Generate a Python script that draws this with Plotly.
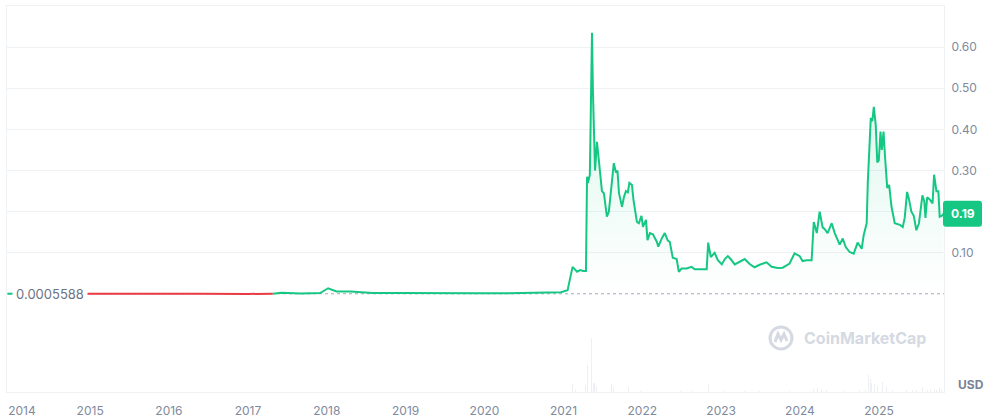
import plotly.graph_objects as go

# ---------------- data ----------------
price_dates = [
    "2013-12-15", "2014-01-20", "2014-02-20", "2014-04-20", "2014-06-01", "2014-09-01",
    "2015-01-01", "2015-06-01", "2016-01-01", "2016-06-01", "2017-01-01", "2017-04-01",
    "2017-04-25", "2017-05-20", "2017-06-05", "2017-09-01", "2017-12-01", "2018-01-07",
    "2018-02-15", "2018-04-20", "2018-08-01", "2018-12-01", "2019-04-01", "2019-07-01",
    "2019-12-01", "2020-03-15", "2020-07-01", "2020-12-20", "2021-01-20", "2021-01-29",
    "2021-02-12", "2021-03-05", "2021-03-19", "2021-04-02", "2021-04-15", "2021-04-20",
    "2021-04-24", "2021-05-03", "2021-05-13", "2021-05-17", "2021-05-27", "2021-06-05",
    "2021-06-14", "2021-06-28", "2021-07-07", "2021-07-21", "2021-07-30", "2021-08-13",
    "2021-08-22", "2021-09-01", "2021-09-08", "2021-09-15", "2021-09-29", "2021-10-08",
    "2021-10-17", "2021-10-26", "2021-11-02", "2021-11-14", "2021-11-21", "2021-12-07",
    "2021-12-16", "2021-12-28", "2022-01-04", "2022-01-18", "2022-01-25", "2022-02-05",
    "2022-02-19", "2022-03-09", "2022-03-16", "2022-04-01", "2022-04-15", "2022-04-29",
    "2022-05-08", "2022-05-22", "2022-06-09", "2022-06-19", "2022-07-02", "2022-07-25",
    "2022-08-17", "2022-09-01", "2022-10-08", "2022-10-26", "2022-11-02", "2022-11-14",
    "2022-12-02", "2022-12-16", "2023-01-04", "2023-01-18", "2023-02-01", "2023-02-14",
    "2023-03-05", "2023-03-28", "2023-04-20", "2023-05-13", "2023-06-05", "2023-06-28",
    "2023-07-30", "2023-08-23", "2023-09-20", "2023-10-13", "2023-11-14", "2023-12-07",
    "2023-12-31", "2024-01-13", "2024-02-01", "2024-02-24", "2024-03-05", "2024-03-19",
    "2024-04-01", "2024-04-15", "2024-04-24", "2024-05-08", "2024-05-27", "2024-06-10",
    "2024-07-03", "2024-07-17", "2024-07-31", "2024-08-18", "2024-09-06", "2024-09-24",
    "2024-10-13", "2024-10-22", "2024-11-05", "2024-11-10", "2024-11-24", "2024-12-01",
    "2024-12-08", "2024-12-17", "2024-12-24", "2024-12-31", "2025-01-08", "2025-01-14",
    "2025-01-22", "2025-01-29", "2025-02-08", "2025-02-17", "2025-02-28", "2025-03-15",
    "2025-04-08", "2025-04-21", "2025-04-30", "2025-05-11", "2025-05-20", "2025-05-31",
    "2025-06-11", "2025-06-23", "2025-07-05", "2025-07-21", "2025-07-30", "2025-08-04",
    "2025-08-12", "2025-08-24", "2025-09-06", "2025-09-13", "2025-09-24", "2025-10-03",
    "2025-10-09", "2025-10-18", "2025-10-27",
]
price_values = [
    0.00056, 0.0015, 0.0014, 0.00055, 0.00045, 0.00022,
    0.00018, 0.00013, 0.00015, 0.00030, 0.00022, 0.00045,
    0.00050, 0.0012, 0.003, 0.0012, 0.0022, 0.014,
    0.006, 0.006, 0.0026, 0.0025, 0.0027, 0.0035,
    0.0020, 0.0016, 0.0032, 0.0045, 0.009, 0.03,
    0.066, 0.054, 0.058, 0.056, 0.056, 0.285,
    0.27, 0.29, 0.635, 0.50, 0.30, 0.37,
    0.32, 0.25, 0.245, 0.188, 0.20, 0.278,
    0.318, 0.295, 0.30, 0.245, 0.212, 0.236,
    0.25, 0.247, 0.27, 0.265, 0.229, 0.175,
    0.172, 0.19, 0.163, 0.18, 0.131, 0.148,
    0.145, 0.127, 0.115, 0.135, 0.148, 0.13,
    0.127, 0.088, 0.085, 0.054, 0.062, 0.062,
    0.066, 0.060, 0.059, 0.060, 0.125, 0.09,
    0.10, 0.083, 0.072, 0.085, 0.092, 0.085,
    0.072, 0.078, 0.085, 0.073, 0.065, 0.071,
    0.077, 0.066, 0.063, 0.064, 0.074, 0.099,
    0.092, 0.08, 0.082, 0.082, 0.175, 0.148,
    0.20, 0.162, 0.158, 0.148, 0.172, 0.148,
    0.12, 0.135, 0.114, 0.102, 0.098, 0.125,
    0.11, 0.143, 0.172, 0.27, 0.428, 0.42,
    0.455, 0.41, 0.32, 0.325, 0.395, 0.35,
    0.395, 0.333, 0.258, 0.265, 0.212, 0.172,
    0.168, 0.163, 0.185, 0.248, 0.23, 0.20,
    0.19, 0.155, 0.172, 0.24, 0.225, 0.185,
    0.235, 0.23, 0.22, 0.29, 0.25, 0.25,
    0.188, 0.19, 0.195,
]
start_price = 0.0005588
last_price_label = "0.19"

vol_dates = [
    "2021-01-08", "2021-02-05", "2021-02-13", "2021-02-24", "2021-04-11", "2021-04-21",
    "2021-04-29", "2021-05-12", "2021-05-18", "2021-05-25", "2021-06-04", "2021-06-19",
    "2021-08-13", "2021-08-20", "2021-09-01", "2021-10-27", "2021-11-05", "2021-12-22",
    "2022-02-15", "2022-04-07", "2022-06-25", "2022-08-18", "2022-11-03", "2022-11-24",
    "2023-01-18", "2023-04-21", "2023-06-29", "2023-11-15", "2024-03-02", "2024-03-24",
    "2024-04-11", "2024-05-04", "2024-07-27", "2024-10-04", "2024-11-01", "2024-11-13",
    "2024-11-21", "2024-11-28", "2024-12-13", "2024-12-27", "2025-01-19", "2025-02-05",
    "2025-03-05", "2025-05-09", "2025-06-06", "2025-06-25", "2025-07-21", "2025-08-15",
    "2025-08-29", "2025-09-16", "2025-09-26", "2025-10-10", "2025-10-19",
]
vol_values = [
    3, 19, 10, 3, 9, 34,
    10, 69, 11, 12, 8, 3,
    10, 6, 2.5, 6.5, 2, 1.5,
    1.5, 2, 1.2, 1.5, 10, 2,
    1, 1.2, 0.8, 1, 4, 4.5,
    3, 3, 1.5, 2, 3, 22,
    17, 12, 10, 8, 13, 6,
    3, 2.5, 2, 2, 6, 3,
    2.5, 4, 3, 5, 3.5,
]

year_labels = ["2014", "2015", "2016", "2017", "2018", "2019", "2020", "2021", "2022", "2023", "2024", "2025"]
year_ticks = ["2014-02-19", "2015-01-01", "2016-01-01", "2017-01-01", "2018-01-01", "2019-01-01",
              "2020-01-01", "2021-01-01", "2022-01-01", "2023-01-01", "2024-01-01", "2025-01-01"]
price_ticks = [-0.1, 0.1, 0.2, 0.3, 0.4, 0.5, 0.6]
price_tick_labels = ["", "0.10", "", "0.30", "0.40", "0.50", "0.60"]

# ---------------- styling ----------------
GREEN = "#16c784"
RED = "#ea3943"
GRID = "#eff2f5"
TXT = "#808a9d"
WM = "#d5d9e2"
FONT = "Inter, Roboto, sans-serif"

n = len(price_values)
below = [v <= start_price for v in price_values]
red_values = [v if below[i] else None for i, v in enumerate(price_values)]
green_values = [
    v if (not below[i]) or (i > 0 and not below[i - 1]) or (i < n - 1 and not below[i + 1]) else None
    for i, v in enumerate(price_values)
]

fig = go.Figure()

fig.add_trace(go.Bar(
    x=vol_dates, y=vol_values, yaxis="y2",
    marker=dict(color="rgba(222,225,231,0.55)", line=dict(width=0)),
    width=[4 * 86400000] * len(vol_dates),
    hoverinfo="skip", showlegend=False,
))

fig.add_trace(go.Scatter(
    x=price_dates, y=green_values, mode="lines",
    line=dict(color=GREEN, width=2), connectgaps=False,
    fill="tozeroy",
    fillcolor="rgba(22,199,132,0.08)",
    fillgradient=dict(type="vertical",
                      colorscale=[[0, "rgba(22,199,132,0.0)"], [1, "rgba(22,199,132,0.18)"]]),
    showlegend=False,
))

fig.add_trace(go.Scatter(
    x=price_dates, y=red_values, mode="lines",
    line=dict(color=RED, width=2), connectgaps=False,
    showlegend=False,
))

wm_x = (781 - 7) / 937
wm_y = (392 - 338) / 386
shapes = [
    # dotted baseline at the first price
    dict(type="line", xref="paper", x0=0, x1=1, yref="y", y0=start_price, y1=start_price,
         line=dict(color="#a3aabb", width=1, dash="dot"), layer="below"),
    # current price badge
    dict(type="path", xref="paper", yref="y", xsizemode="pixel", ysizemode="pixel",
         xanchor=1, yanchor=price_values[-1],
         path="M 2,-13 L 35,-13 Q 38,-13 38,-10 L 38,10 Q 38,13 35,13 L 2,13 Q -1,13 -1,10 L -1,-10 Q -1,-13 2,-13 Z",
         fillcolor=GREEN, line=dict(width=0), layer="above"),
    # watermark logo ring
    dict(type="circle", xref="paper", yref="paper", xsizemode="pixel", ysizemode="pixel",
         xanchor=wm_x, yanchor=wm_y, x0=-11, x1=11, y0=-11, y1=11,
         line=dict(color=WM, width=3), layer="above"),
    dict(type="path", xref="paper", yref="paper", xsizemode="pixel", ysizemode="pixel",
         xanchor=wm_x, yanchor=wm_y,
         path="M -6,-4 L -3,4 L 0,-2 L 3,4 L 6,-3",
         line=dict(color=WM, width=3), layer="above"),
]

annotations = [
    dict(xref="paper", yref="y", x=(12 - 7) / 937, y=start_price, xanchor="left", yanchor="middle",
         text="0.0005588", showarrow=False, bgcolor="white", width=72, align="center",
         font=dict(family=FONT, size=13, color="#6b7386"), borderpad=1),
    dict(xref="paper", yref="y", x=1, y=price_values[-1], xanchor="center", yanchor="middle",
         xshift=18.5, text="<b>" + last_price_label + "</b>", showarrow=False,
         font=dict(family=FONT, size=12, color="white")),
    dict(xref="paper", yref="paper", x=1, y=0, xanchor="left", yanchor="bottom",
         xshift=12, yshift=-2, text="<b>USD</b>", showarrow=False,
         font=dict(family=FONT, size=12, color="#7b8396")),
    dict(xref="paper", yref="paper", x=(802 - 7) / 937, y=wm_y, xanchor="left",
         yanchor="middle", text="<b>CoinMarketCap</b>", showarrow=False,
         font=dict(family=FONT, size=16, color=WM)),
]

fig.update_layout(
    width=988, height=417,
    margin=dict(l=7, r=44, t=6, b=25, autoexpand=False),
    paper_bgcolor="white", plot_bgcolor="white",
    font=dict(family=FONT, size=12, color=TXT),
    bargap=0,
    xaxis=dict(
        type="date", range=["2013-12-12", "2025-10-29"],
        tickvals=year_ticks, ticktext=year_labels,
        showgrid=False, zeroline=False,
        showline=True, linecolor=GRID, linewidth=1, mirror=True,
        ticks="", ticklabelstandoff=8, automargin=False,
        tickfont=dict(family=FONT, size=12, color=TXT),
    ),
    yaxis=dict(
        side="right", range=[-0.2382, 0.7],
        tickvals=price_ticks, ticktext=price_tick_labels,
        showgrid=True, gridcolor=GRID, gridwidth=1, zeroline=False,
        showline=True, linecolor=GRID, linewidth=1, mirror=True,
        ticks="", ticklabelstandoff=4, automargin=False,
        tickfont=dict(family=FONT, size=12, color=TXT),
    ),
    yaxis2=dict(
        domain=[0, 0.15], range=[0, 74],
        showgrid=False, showticklabels=False, zeroline=False, showline=False,
        anchor="x",
    ),
    shapes=shapes,
    annotations=annotations,
    showlegend=False,
)

fig.write_html("out.html", config={"displayModeBar": False},
               post_script="document.body.style.margin='0';")
